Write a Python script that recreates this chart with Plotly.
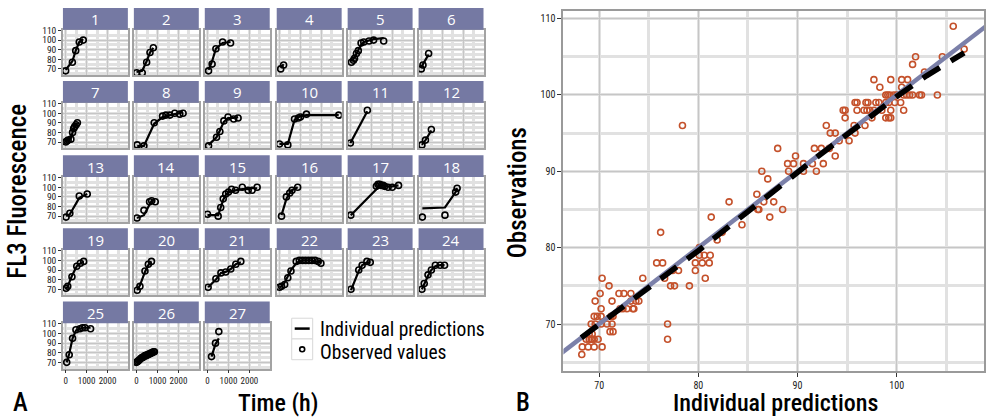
import plotly.graph_objects as go

W, H = 986, 419

# ---------------- Panel A data (per subject) ----------------
panel_labels = [str(i) for i in range(1, 28)]
obs_time = [
    [0, 320, 480, 650, 840],
    [0, 270, 480, 640, 800],
    [50, 220, 400, 720, 1100],
    [60, 200],
    [50, 150, 200, 290, 380, 510, 640, 890, 1110, 1590],
    [0, 80, 350],
    [0, 60, 120, 250, 330, 380, 430, 500, 560],
    [30, 350, 840, 1240, 1400, 1590, 1820, 2060, 2220],
    [50, 430, 590, 780, 980, 1250, 1460],
    [0, 400, 720, 900, 1000, 1290, 2830],
    [0, 810],
    [30, 200, 480],
    [20, 200, 650, 1030],
    [20, 350, 620, 720, 890],
    [0, 510, 630, 750, 870, 1000, 1150, 1340, 1660, 1940, 2130, 2370],
    [100, 330, 490, 600, 870],
    [20, 1240, 1320, 1400, 1480, 1560, 1640, 1800, 2000, 2300],
    [50, 1130, 1640, 1710],
    [20, 100, 300, 530, 700, 860],
    [30, 160, 400, 560, 710],
    [30, 400, 640, 870, 1110, 1350, 1590],
    [0, 100, 250, 400, 550, 800, 950, 1100, 1250, 1400, 1550, 1700, 1850, 1980],
    [30, 400, 560, 790, 950],
    [30, 140, 320, 480, 670, 900, 1110],
    [50, 170, 330, 490, 680, 800, 920, 1190],
    [0, 50, 100, 150, 200, 250, 300, 350, 400, 450, 500, 550, 600, 650, 700, 750, 800, 850],
    [190, 380, 540],
]
obs_value = [
    [68, 77, 89, 98, 100],
    [66, 66, 77, 87, 92],
    [68, 75, 91, 98, 97],
    [70, 74],
    [77, 79, 81, 86, 89, 97, 98, 99, 100, 99],
    [70, 74, 86],
    [70, 71, 72, 73, 80, 84, 86, 88, 90],
    [67, 66, 90, 97, 98, 98, 100, 99, 100],
    [66, 75, 81, 92, 96, 94, 95],
    [68, 67, 94, 95, 96, 99, 98],
    [69, 103],
    [67, 72, 83],
    [69, 73, 91, 93],
    [68, 76, 85, 86, 85],
    [72, 70, 79, 88, 93, 95, 98, 97, 100, 97, 97, 100],
    [70, 90, 94, 97, 100],
    [71, 101, 103, 103, 102, 102, 101, 100, 100, 102],
    [69, 71, 95, 99],
    [71, 73, 83, 94, 97, 99],
    [69, 73, 89, 96, 99],
    [72, 81, 87, 88, 91, 96, 99],
    [72, 73, 75, 82, 89, 99, 100, 100, 100, 100, 100, 100, 99, 97],
    [70, 90, 95, 99, 98],
    [70, 76, 85, 90, 95, 95, 95],
    [70, 78, 95, 104, 105, 106, 106, 105],
    [70, 71, 72, 73, 74, 75, 75, 76, 77, 77, 78, 78, 79, 79, 80, 80, 81, 81],
    [76, 90, 102],
]
pred_value = [
    [69, 78, 89, 98, 101],
    [67, 68, 78, 87, 92],
    [69, 78, 91, 97, 98],
    [71, 75],
    [78, 80, 82, 86, 90, 95, 98, 100, 101, 102],
    [71, 75, 85],
    [71, 71, 72, 74, 80, 84, 86, 88, 90],
    [66, 66, 89, 96, 97, 98, 99, 100, 101],
    [67, 75, 82, 91, 95, 95, 96],
    [68, 68, 93, 96, 97, 98, 98],
    [69, 102],
    [67, 72, 82],
    [70, 72, 89, 93],
    [68, 71, 82, 86, 86],
    [71, 71, 79, 87, 92, 95, 96, 97, 98, 98, 99, 99],
    [71, 88, 94, 97, 100],
    [71, 98, 101, 102, 102, 102, 101, 101, 101, 102],
    [78, 79, 95, 99],
    [70, 73, 84, 94, 97, 99],
    [69, 74, 88, 95, 99],
    [72, 80, 87, 88, 91, 96, 98],
    [72, 73, 77, 83, 90, 97, 99, 100, 100, 100, 100, 99, 99, 98],
    [69, 89, 95, 98, 98],
    [70, 76, 84, 90, 94, 95, 95],
    [70, 79, 95, 103, 105, 106, 106, 106],
    [70, 71, 72, 73, 74, 74, 75, 76, 76, 77, 77, 78, 78, 79, 79, 80, 80, 81],
    [76, 89, 95],
]
a_xticks = [0, 1000, 2000]
a_yticks = [70, 80, 90, 100, 110]

# ---------------- Panel B data ----------------
b_pred = [
    68.25, 68.3, 68.9, 69.5, 70.3, 68.7, 69.0, 69.2, 69.5, 69.9, 69.3, 69.0, 69.3,
    69.2, 69.6, 70.2, 69.5, 69.8, 70.2, 69.6, 70.2, 70.1, 70.3, 71.0, 71.3,
    71.2, 71.4, 70.8, 71.3, 71.1, 71.4, 72.0, 72.5, 72.1, 72.4, 72.8, 73.2, 73.2,
    73.7, 73.4, 73.5, 74.0, 74.4, 75.8, 76.4, 76.2, 76.6, 76.9, 76.9, 77.2, 77.6,
    77.4, 78.0, 79.1, 79.7, 79.7, 80.1, 80.6, 81.2, 80.4, 81.1, 80.7, 81.3, 81.9,
    82.4, 84.4, 80.1, 78.4, 83.1,
    86.1, 87.2, 88.5, 86.6, 87.6, 86.0, 85.9, 87.0, 86.4, 89.1, 90.6, 91.9,
    88.0, 89.0, 89.8, 89.6, 90.6, 91.5, 91.7, 92.4, 92.6, 93.2, 93.8,
    92.9, 93.3, 93.8, 94.2, 94.6, 94.8, 94.8, 95.2, 95.7, 95.8,
    95.8, 96.0, 96.0, 96.9, 97.1, 96.7, 97.0, 97.3, 96.8, 97.5, 97.7, 97.7,
    97.9, 98.2, 98.3, 98.5, 98.9, 99.2, 99.4, 98.9, 99.2, 99.4, 99.4,
    98.9, 99.1, 99.3, 99.7, 100.0, 99.8, 100.4, 100.5, 101.1, 100.5, 100.7,
    100.7, 101.0, 101.3, 101.6, 102.3, 102.5, 101.6, 101.9, 102.8, 104.1, 104.6, 106.8, 105.7,
]
b_obs = [
    66, 67, 67, 67, 67, 68, 68, 68, 68, 68, 68, 68.7, 68.7,
    70, 70, 70, 71, 71, 71, 73, 72, 74, 76, 75, 73,
    71, 71, 70, 70, 69, 69, 74, 74, 72, 72, 72, 74, 73,
    73, 72, 72, 73, 76, 78, 78, 82, 76, 70, 68, 75, 75,
    77, 77, 75, 77, 78, 79, 79, 79, 78, 78, 76, 84, 81,
    82, 83, 80, 96, 86,
    85, 84, 85, 86, 86, 85, 87, 89, 90, 90, 90, 90,
    93, 91, 92, 91, 91, 91, 93, 93, 91, 93, 92,
    96, 95, 95, 94, 98, 98, 97, 94, 96, 95,
    99, 99, 98, 99, 99, 98, 98, 98, 96, 97, 102, 98,
    99, 99, 101, 98, 97, 97, 97, 99, 99, 102, 98,
    100, 100, 100, 100, 100, 99, 99, 102, 102, 101, 98,
    100, 100, 100, 100, 100, 100, 104, 105, 103, 100, 105, 106, 109,
]
identity_x = [60, 115]
smooth_x = [68.2, 72, 76, 80, 84, 88, 92, 96, 100, 103, 106.8]
smooth_y = [68.2, 71.8, 75.7, 79.6, 83.7, 87.9, 91.9, 95.8, 99.8, 102.5, 105.5]
b_xticks = [70, 80, 90, 100]
b_yticks = [70, 80, 90, 100, 110]

# ---------------- styling ----------------
TITLE_FONT = "Roboto Condensed, Roboto, sans-serif"
TICK_FONT = "Roboto Condensed, Roboto, sans-serif"
HEAD_COL = "#7579a3"
MAJ_GRID = "#c6c6c6"
MIN_GRID = "#e1e1e1"
FRAME = "#a3a3a3"
OBS_RED = "#c4512b"


def fx(px):
    return px / W


def fy(py):
    return 1 - py / H


col_left = [63, 134, 205, 277, 348, 419]
row_top = [3, 77, 152, 226, 300]
PW, HH, PH = 65, 22, 46

fig = go.Figure()
shapes = []
annotations = []
axes = {}

for k in range(27):
    r, c = divmod(k, 6)
    n = k + 1
    sx = "" if n == 1 else str(n)
    x0 = col_left[c]
    top = row_top[r]
    fig.add_trace(go.Scatter(
        x=obs_time[k], y=pred_value[k], mode="lines",
        line=dict(color="black", width=2.2),
        xaxis="x" + sx, yaxis="y" + sx, showlegend=False, hoverinfo="skip"))
    fig.add_trace(go.Scatter(
        x=obs_time[k], y=obs_value[k], mode="markers",
        marker=dict(symbol="circle-open", size=6, color="black", line=dict(width=1.6)),
        xaxis="x" + sx, yaxis="y" + sx, showlegend=False, hoverinfo="skip"))
    show_x = k >= 24
    show_y = c == 0
    axes["xaxis" + sx] = dict(
        domain=[fx(x0), fx(x0 + PW)], range=[-130, 2970], anchor="y" + sx,
        tickvals=a_xticks, showticklabels=show_x, tickangle=0,
        ticks="outside" if show_x else "", ticklen=3, tickwidth=1, tickcolor="#333",
        tickfont=dict(family=TICK_FONT, size=9, color="#222"),
        showgrid=True, gridcolor=MAJ_GRID, gridwidth=1,
        minor=dict(dtick=500, tick0=0, showgrid=True, gridcolor=MIN_GRID, gridwidth=2.5),
        showline=True, mirror=True, linecolor=FRAME, linewidth=1.5, zeroline=False,
    )
    axes["yaxis" + sx] = dict(
        domain=[fy(top + HH + PH), fy(top + HH)], range=[63.5, 110.8], anchor="x" + sx,
        tickvals=a_yticks, showticklabels=show_y,
        ticks="outside" if show_y else "", ticklen=3, tickwidth=1, tickcolor="#333",
        tickfont=dict(family=TICK_FONT, size=9.5, color="#222"),
        showgrid=True, gridcolor=MAJ_GRID, gridwidth=1,
        minor=dict(dtick=5, tick0=65, showgrid=True, gridcolor=MIN_GRID, gridwidth=2.5),
        showline=True, mirror=True, linecolor=FRAME, linewidth=1.5, zeroline=False,
    )
    shapes.append(dict(type="rect", xref="paper", yref="paper",
                       x0=fx(x0), x1=fx(x0 + PW), y0=fy(top + HH), y1=fy(top),
                       fillcolor=HEAD_COL, line=dict(width=0), layer="above"))
    annotations.append(dict(text=panel_labels[k], xref="paper", yref="paper",
                            x=fx(x0 + PW / 2), y=fy(top + HH / 2 + 0.5),
                            xanchor="center", yanchor="middle", showarrow=False,
                            font=dict(family="Open Sans, sans-serif", size=15, color="white")))

# ---------------- Panel B ----------------
fig.add_trace(go.Scatter(
    x=b_pred, y=b_obs, mode="markers",
    marker=dict(symbol="circle-open", size=6, color=OBS_RED, line=dict(width=1.6)),
    xaxis="x28", yaxis="y28", showlegend=False, hoverinfo="skip"))
fig.add_trace(go.Scatter(
    x=identity_x, y=identity_x, mode="lines",
    line=dict(color="#7b80a9", width=4.5),
    xaxis="x28", yaxis="y28", showlegend=False, hoverinfo="skip"))
fig.add_trace(go.Scatter(
    x=smooth_x, y=smooth_y, mode="lines",
    line=dict(color="black", width=5.5, dash="20px,13px"),
    xaxis="x28", yaxis="y28", showlegend=False, hoverinfo="skip"))

axes["xaxis28"] = dict(
    domain=[fx(564), fx(985)], range=[66.4, 108.8], anchor="y28",
    tickvals=b_xticks, ticks="outside", ticklen=4, tickcolor="#333",
    tickfont=dict(family=TICK_FONT, size=10, color="#222"),
    showgrid=True, gridcolor=MAJ_GRID, gridwidth=1.2,
    minor=dict(dtick=5, tick0=65, showgrid=True, gridcolor=MIN_GRID, gridwidth=3),
    showline=True, mirror=True, linecolor="#9a9a9a", linewidth=2, zeroline=False,
)
axes["yaxis28"] = dict(
    domain=[fy(370), fy(6)], range=[63.9, 111.0], anchor="x28",
    tickvals=b_yticks, ticks="outside", ticklen=4, tickcolor="#333",
    tickfont=dict(family=TICK_FONT, size=10, color="#222"),
    showgrid=True, gridcolor=MAJ_GRID, gridwidth=1.2,
    minor=dict(dtick=5, tick0=65, showgrid=True, gridcolor=MIN_GRID, gridwidth=3),
    showline=True, mirror=True, linecolor="#9a9a9a", linewidth=2, zeroline=False,
)

# ---------------- legend (manual) ----------------
for (ky0, ky1) in [(317, 338), (338, 359)]:
    shapes.append(dict(type="rect", xref="paper", yref="paper",
                       x0=fx(292), x1=fx(313), y0=fy(ky1), y1=fy(ky0),
                       fillcolor="white", line=dict(color="#d8d8d8", width=1)))
shapes.append(dict(type="line", xref="paper", yref="paper",
                   x0=fx(295), x1=fx(310), y0=fy(327.5), y1=fy(327.5),
                   line=dict(color="black", width=2.5)))
shapes.append(dict(type="circle", xref="paper", yref="paper",
                   x0=fx(300), x1=fx(305), y0=fy(351), y1=fy(346),
                   line=dict(color="black", width=1.6)))
annotations.append(dict(text="Individual predictions", xref="paper", yref="paper",
                        x=fx(318), y=fy(328), xanchor="left", yanchor="middle", showarrow=False,
                        font=dict(family=TITLE_FONT, size=19.5, color="black")))
annotations.append(dict(text="Observed values", xref="paper", yref="paper",
                        x=fx(318), y=fy(352), xanchor="left", yanchor="middle", showarrow=False,
                        font=dict(family=TITLE_FONT, size=19.5, color="black")))

# ---------------- titles ----------------
annotations += [
    dict(text="FL3 Fluorescence", xref="paper", yref="paper", x=fx(18), y=fy(188),
         textangle=-90, xanchor="center", yanchor="middle", showarrow=False,
         font=dict(family=TITLE_FONT, size=25, color="black", weight=500)),
    dict(text="Time (h)", xref="paper", yref="paper", x=fx(278), y=fy(403),
         xanchor="center", yanchor="middle", showarrow=False,
         font=dict(family=TITLE_FONT, size=24, color="black", weight=500)),
    dict(text="A", xref="paper", yref="paper", x=fx(21), y=fy(402),
         xanchor="center", yanchor="middle", showarrow=False,
         font=dict(family=TITLE_FONT, size=25, color="black", weight=500)),
    dict(text="Observations", xref="paper", yref="paper", x=fx(518), y=fy(190),
         textangle=-90, xanchor="center", yanchor="middle", showarrow=False,
         font=dict(family=TITLE_FONT, size=25, color="black", weight=500)),
    dict(text="Individual predictions", xref="paper", yref="paper", x=fx(776), y=fy(403),
         xanchor="center", yanchor="middle", showarrow=False,
         font=dict(family=TITLE_FONT, size=24, color="black", weight=500)),
    dict(text="B", xref="paper", yref="paper", x=fx(524), y=fy(402),
         xanchor="center", yanchor="middle", showarrow=False,
         font=dict(family=TITLE_FONT, size=25, color="black", weight=500)),
]

fig.update_layout(
    width=W, height=H, margin=dict(l=0, r=0, t=0, b=0),
    paper_bgcolor="white", plot_bgcolor="white",
    shapes=shapes, annotations=annotations, **axes,
)
fig.write_html("out.html")
